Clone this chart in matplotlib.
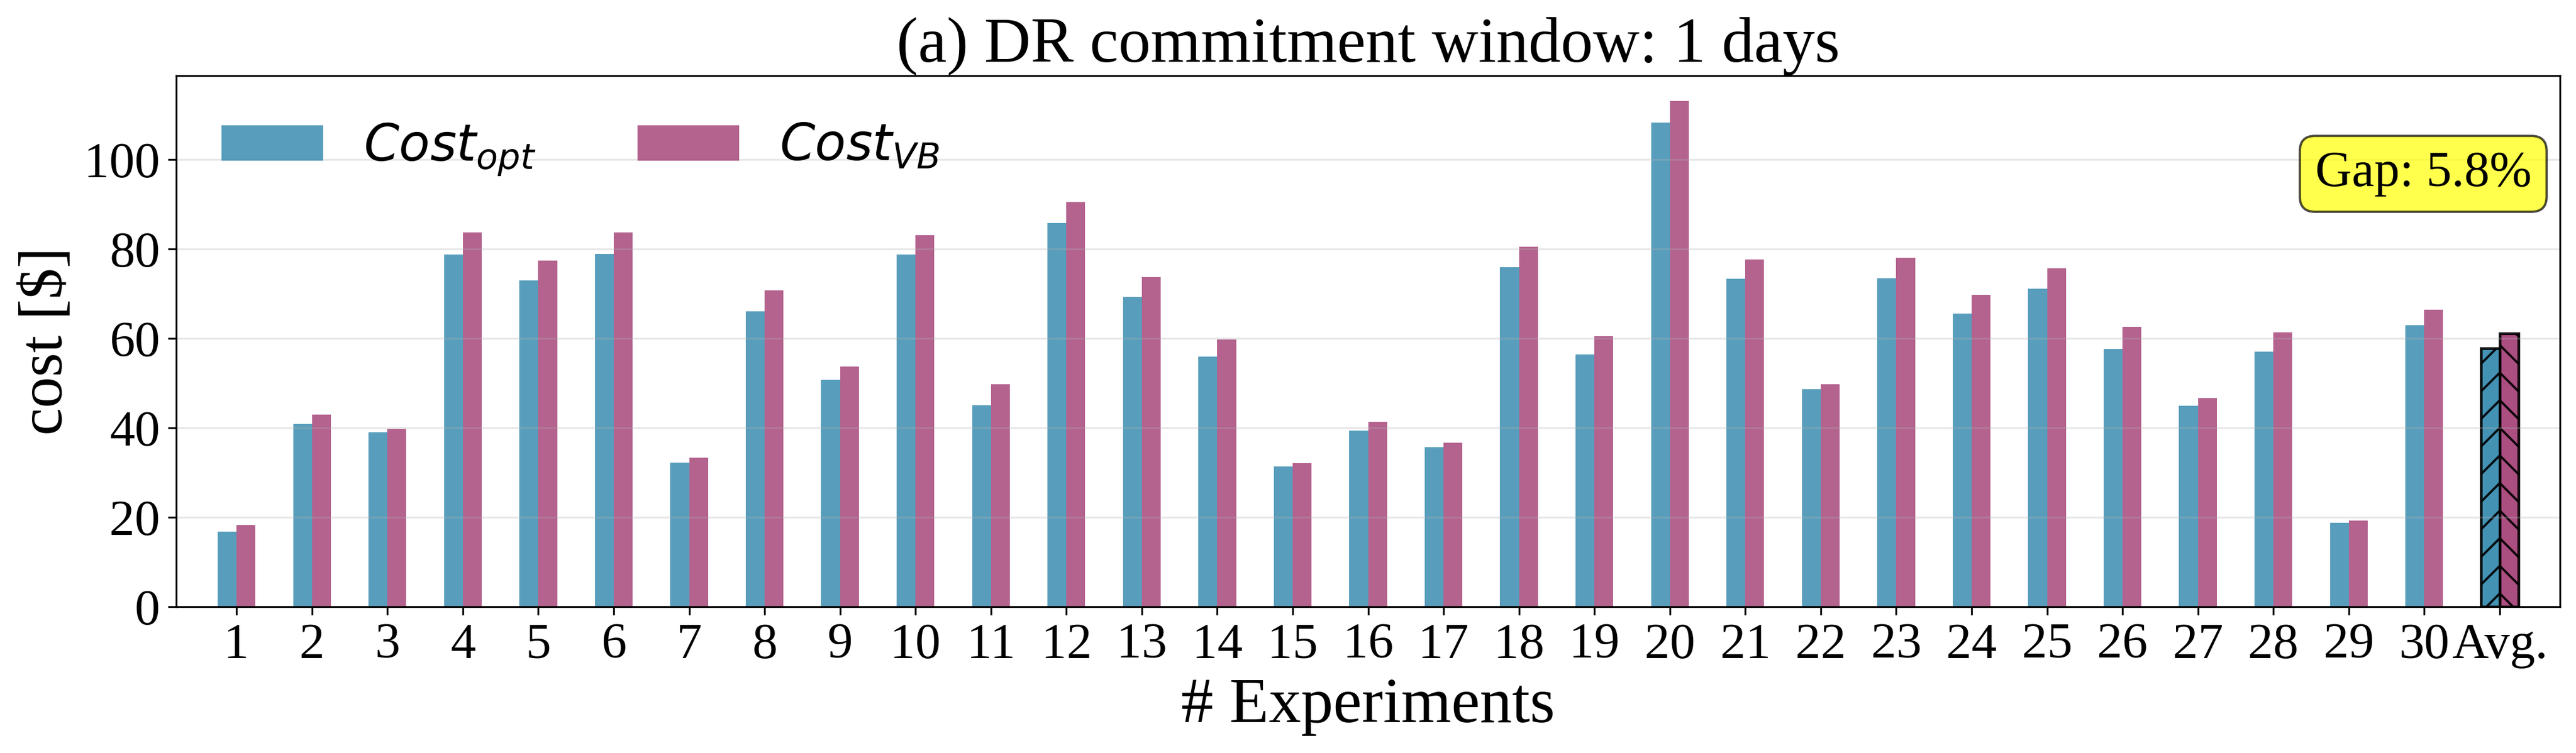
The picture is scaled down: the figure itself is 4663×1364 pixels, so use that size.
import numpy as np
import matplotlib
matplotlib.use('Agg')
import matplotlib.pyplot as plt
from matplotlib.ticker import MultipleLocator

# Values
experiments = [str(i) for i in range(1, 31)]
cost_opt = [16.8, 40.9, 39.0, 78.7, 73.0, 78.9, 32.2, 66.0, 50.7, 78.7,
            45.0, 85.8, 69.3, 55.9, 31.4, 39.4, 35.7, 75.9, 56.4, 108.3,
            73.3, 48.6, 73.5, 65.6, 71.1, 57.7, 44.9, 57.0, 18.7, 62.9]
cost_vb = [18.3, 43.0, 39.8, 83.7, 77.4, 83.7, 33.3, 70.7, 53.7, 83.1,
           49.8, 90.5, 73.7, 59.8, 32.1, 41.4, 36.6, 80.5, 60.5, 113.1,
           77.6, 49.7, 78.0, 69.7, 75.7, 62.6, 46.6, 61.4, 19.2, 66.4]
tick_labels = experiments + ['Avg.']

color_opt = '#2E86AB'
color_vb = '#A23B72'


def main():
    plt.rcParams['font.family'] = ['Liberation Serif', 'DejaVu Serif']

    opt = np.array(cost_opt)
    vb = np.array(cost_vb)
    avg_opt = opt.mean()
    avg_vb = vb.mean()
    gap = (avg_vb - avg_opt) / avg_opt * 100

    fig, ax = plt.subplots(figsize=(4663 / 300, 1364 / 300), dpi=300)
    fig.subplots_adjust(left=0.0684, right=0.9938, bottom=0.1943, top=0.8996)

    x = np.arange(len(experiments))
    w = 0.25
    ax.bar(x - w / 2, opt, w, color=color_opt, alpha=0.8, label=r'$Cost_{opt}$')
    ax.bar(x + w / 2, vb, w, color=color_vb, alpha=0.8, label=r'$Cost_{VB}$')

    # average bars
    xa = len(experiments)
    ax.bar(xa - w / 2, avg_opt, w, color=color_opt, alpha=0.9,
           edgecolor='black', linewidth=1.2, hatch='//')
    ax.bar(xa + w / 2, avg_vb, w, color=color_vb, alpha=0.9,
           edgecolor='black', linewidth=1.2, hatch='\\\\')

    ax.set_xticks(np.arange(len(tick_labels)))
    ax.set_xticklabels(tick_labels)
    ax.yaxis.set_major_locator(MultipleLocator(20))
    ax.tick_params(axis='both', labelsize=22)
    ax.set_xlim(-0.8, len(experiments) + 0.8)
    ax.set_ylim(0, max(vb.max(), opt.max()) * 1.05)

    ax.set_xlabel('# Experiments', fontsize=28)
    ax.set_ylabel('cost [$]', fontsize=27)
    ax.set_title('(a) DR commitment window: 1 days', fontsize=28)
    ax.grid(axis='y', alpha=0.3)

    ax.legend(loc='upper left', ncol=2, frameon=False, fontsize=22)

    ax.text(0.988, 0.815, f'Gap: {gap:.1f}%', transform=ax.transAxes,
            ha='right', va='center', fontsize=22,
            bbox=dict(boxstyle='round,pad=0.3', facecolor='yellow', alpha=0.7))

    fig.savefig('out.png', dpi=300)


if __name__ == '__main__':
    main()
